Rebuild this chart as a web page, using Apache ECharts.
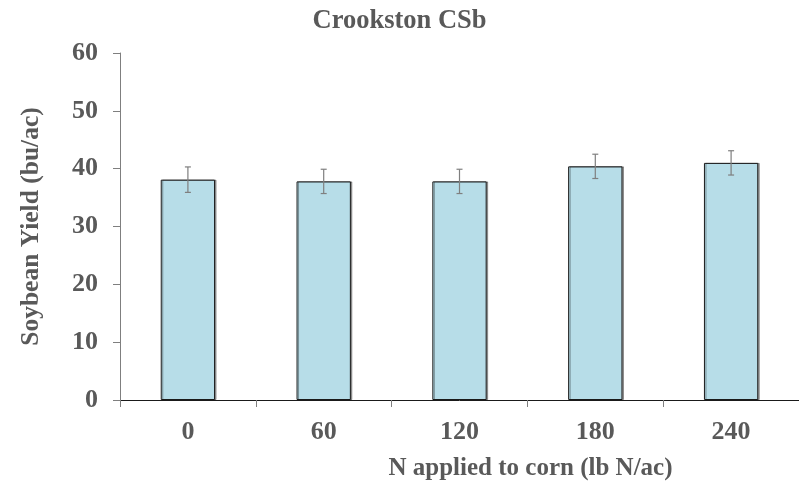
<!DOCTYPE html>
<html>
<head>
<meta charset="utf-8">
<script src="https://cdn.jsdelivr.net/npm/echarts@6/dist/echarts.min.js"></script>
<style>
  html, body { margin: 0; padding: 0; background: #fff; }
  #chart { width: 799px; height: 486px; }
</style>
</head>
<body>
<div id="chart"></div>
<script>
// N rate applied to the preceding corn crop (lb N/ac)
const categories = ['0', '60', '120', '180', '240'];
// Mean soybean yield (bu/ac)
const yieldValues = [38.1, 37.8, 37.8, 40.4, 41.0];
// Standard error of each mean (bu/ac)
const yieldErrors = [2.2, 2.1, 2.1, 2.1, 2.1];
// Y axis tick range
const yMin = 0;
const yMax = 60;
const yStep = 10;

const FONT = '"Liberation Serif", "Times New Roman", serif';
const TEXT = '#595959';

const errorData = yieldValues.map((v, i) => [i, v - yieldErrors[i], v + yieldErrors[i]]);

const chart = echarts.init(document.getElementById('chart'), null, { renderer: 'canvas' });

chart.setOption({
  animation: false,
  backgroundColor: '#ffffff',
  title: {
    text: 'Crookston CSb',
    left: 'center',
    top: 3,
    textStyle: { fontFamily: FONT, fontWeight: 'bold', fontSize: 26.5, color: TEXT }
  },
  grid: { left: 120, right: 0, top: 53, bottom: 86, containLabel: false },
  xAxis: {
    type: 'category',
    data: categories,
    name: 'N applied to corn (lb N/ac)',
    nameLocation: 'middle',
    nameGap: 56,
    nameTextStyle: {
      fontFamily: FONT, fontWeight: 'bold', fontSize: 25, color: TEXT,
      padding: [0, 0, 0, 142]
    },
    axisLine: { lineStyle: { color: '#1a1a1a', width: 1 } },
    axisTick: { show: true, alignWithLabel: false, length: 7, lineStyle: { color: '#7f7f7f' } },
    axisLabel: { margin: 19, fontFamily: FONT, fontWeight: 'bold', fontSize: 26, color: TEXT },
    splitLine: { show: false }
  },
  yAxis: {
    type: 'value',
    min: yMin,
    max: yMax,
    interval: yStep,
    name: 'Soybean Yield (bu/ac)',
    nameLocation: 'middle',
    nameGap: 76,
    nameTextStyle: { fontFamily: FONT, fontWeight: 'bold', fontSize: 25.5, color: TEXT },
    axisLine: { show: true, lineStyle: { color: '#7f7f7f', width: 1 } },
    axisTick: { show: true, length: 7, lineStyle: { color: '#7f7f7f' } },
    axisLabel: { margin: 22, fontFamily: FONT, fontWeight: 'bold', fontSize: 26, color: TEXT },
    splitLine: { show: false }
  },
  series: [
    {
      type: 'bar',
      data: yieldValues,
      barWidth: '40%',
      itemStyle: {
        color: '#b7dde8',
        borderColor: '#1a1a1a',
        borderWidth: 1,
        shadowColor: 'rgba(0,0,0,0.35)',
        shadowOffsetX: 1.5,
        shadowBlur: 0
      }
    },
    {
      type: 'custom',
      data: errorData,
      z: 10,
      renderItem: function (params, api) {
        const x = api.value(0);
        const lo = api.coord([x, api.value(1)]);
        const hi = api.coord([x, api.value(2)]);
        const cap = 3;
        const style = { stroke: '#7f7f7f', lineWidth: 1.2 };
        return {
          type: 'group',
          children: [
            { type: 'line', shape: { x1: hi[0], y1: hi[1], x2: lo[0], y2: lo[1] }, style: style },
            { type: 'line', shape: { x1: hi[0] - cap, y1: hi[1], x2: hi[0] + cap, y2: hi[1] }, style: style },
            { type: 'line', shape: { x1: lo[0] - cap, y1: lo[1], x2: lo[0] + cap, y2: lo[1] }, style: style }
          ]
        };
      }
    }
  ]
});
</script>
</body>
</html>
